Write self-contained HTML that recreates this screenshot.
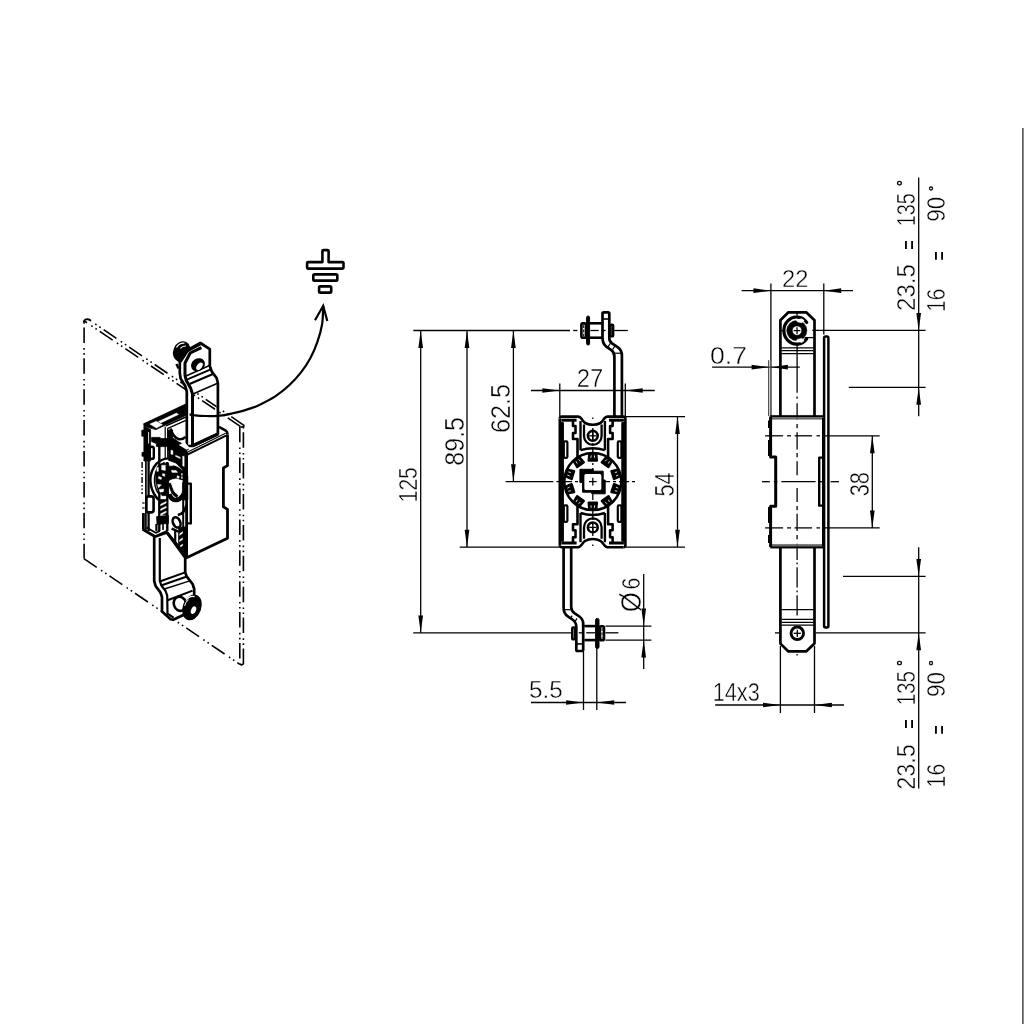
<!DOCTYPE html>
<html><head><meta charset="utf-8"><title>Drawing</title>
<style>
html,body{margin:0;padding:0;background:#fff;}
body{width:1024px;height:1024px;overflow:hidden;}
svg{display:block;}
svg text{font-family:"Liberation Sans",sans-serif;fill:#000;stroke:#fff;stroke-width:0.42px;vector-effect:non-scaling-stroke;paint-order:fill stroke;}
svg text.b{stroke:#000;stroke-width:0.5px;}
svg text.n{stroke:none;}
</style></head><body>
<svg width="1024" height="1024" viewBox="0 0 1024 1024" fill="none" stroke="#000" stroke-linecap="butt" stroke-linejoin="round">
<rect x="0" y="0" width="1024" height="1024" fill="#fff" stroke="none"/>
<g opacity="0.999">
<line x1="1022.90" y1="128.00" x2="1022.90" y2="1024.00" stroke-width="1.1" />
<g id="mid-dims">
<line x1="413.30" y1="330.50" x2="570.00" y2="330.50" stroke-width="1.3" />
<line x1="573.20" y1="330.50" x2="577.40" y2="330.50" stroke-width="1.3" />
<line x1="590.50" y1="330.50" x2="598.70" y2="330.50" stroke-width="1.3" />
<line x1="603.00" y1="330.50" x2="605.60" y2="330.50" stroke-width="1.3" />
<line x1="614.40" y1="330.50" x2="627.80" y2="330.50" stroke-width="1.3" />
<line x1="413.20" y1="632.80" x2="571.20" y2="632.80" stroke-width="1.3" />
<line x1="578.70" y1="632.80" x2="582.10" y2="632.80" stroke-width="1.3" />
<line x1="586.20" y1="632.80" x2="595.10" y2="632.80" stroke-width="1.3" />
<line x1="605.40" y1="632.80" x2="618.40" y2="632.80" stroke-width="1.3" />
<line x1="420.70" y1="330.50" x2="420.70" y2="632.80" stroke-width="1.3" />
<polygon points="420.70,330.50 423.05,347.90 418.35,347.90" fill="#000" stroke="none"/>
<polygon points="420.70,632.80 418.35,615.40 423.05,615.40" fill="#000" stroke="none"/>
<line x1="467.00" y1="330.50" x2="467.00" y2="547.20" stroke-width="1.3" />
<polygon points="467.00,330.50 469.35,347.90 464.65,347.90" fill="#000" stroke="none"/>
<polygon points="467.00,547.20 464.65,529.80 469.35,529.80" fill="#000" stroke="none"/>
<line x1="459.70" y1="547.20" x2="559.00" y2="547.20" stroke-width="1.3" />
<line x1="513.40" y1="330.50" x2="513.40" y2="481.60" stroke-width="1.3" />
<polygon points="513.40,330.50 515.75,347.90 511.05,347.90" fill="#000" stroke="none"/>
<polygon points="513.40,481.60 511.05,464.20 515.75,464.20" fill="#000" stroke="none"/>
<line x1="505.60" y1="481.60" x2="553.30" y2="481.60" stroke-width="1.3" />
<line x1="556.40" y1="481.60" x2="559.50" y2="481.60" stroke-width="1.3" />
<line x1="531.00" y1="390.50" x2="654.80" y2="390.50" stroke-width="1.3" />
<line x1="559.80" y1="383.50" x2="559.80" y2="416.00" stroke-width="1.3" />
<line x1="625.30" y1="383.50" x2="625.30" y2="416.00" stroke-width="1.3" />
<polygon points="559.80,390.50 542.40,392.85 542.40,388.15" fill="#000" stroke="none"/>
<polygon points="625.30,390.50 642.70,388.15 642.70,392.85" fill="#000" stroke="none"/>
<line x1="626.00" y1="416.60" x2="685.00" y2="416.60" stroke-width="1.3" />
<line x1="626.00" y1="547.20" x2="685.00" y2="547.20" stroke-width="1.3" />
<line x1="677.50" y1="416.60" x2="677.50" y2="547.20" stroke-width="1.3" />
<polygon points="677.50,416.60 679.85,434.00 675.15,434.00" fill="#000" stroke="none"/>
<polygon points="677.50,547.20 675.15,529.80 679.85,529.80" fill="#000" stroke="none"/>
<line x1="605.50" y1="626.10" x2="651.40" y2="626.10" stroke-width="1.3" />
<line x1="605.50" y1="640.20" x2="651.40" y2="640.20" stroke-width="1.3" />
<line x1="643.70" y1="574.00" x2="643.70" y2="669.00" stroke-width="1.3" />
<polygon points="643.70,626.00 641.35,608.60 646.05,608.60" fill="#000" stroke="none"/>
<polygon points="643.70,640.00 646.05,657.40 641.35,657.40" fill="#000" stroke="none"/>
<line x1="531.00" y1="702.50" x2="626.00" y2="702.50" stroke-width="1.3" />
<line x1="583.50" y1="652.00" x2="583.50" y2="710.00" stroke-width="1.3" />
<line x1="596.80" y1="648.00" x2="596.80" y2="710.00" stroke-width="1.3" />
<polygon points="583.50,702.50 566.10,704.85 566.10,700.15" fill="#000" stroke="none"/>
<polygon points="596.80,702.50 614.20,700.15 614.20,704.85" fill="#000" stroke="none"/>
</g>
<g id="mid-text">
<text  transform="translate(576.81,387.00) scale(0.1188,0.1271)" font-size="200">27</text>
<text  transform="translate(674.03,496.47) rotate(-90) scale(0.1082,0.1357)" font-size="200">54</text>
<text  transform="translate(509.83,433.06) rotate(-90) scale(0.1264,0.1338)" font-size="200">62.5</text>
<text  transform="translate(463.93,465.73) rotate(-90) scale(0.1250,0.1373)" font-size="200">89.5</text>
<text  transform="translate(417.33,502.28) rotate(-90) scale(0.1052,0.1331)" font-size="200">125</text>
<text  transform="translate(641.16,612.20) rotate(-90) scale(0.1291,0.1477)" font-size="200">Ø</text>
<text  transform="translate(640.24,589.58) rotate(-90) scale(0.1075,0.1296)" font-size="200">6</text>
<text  transform="translate(529.03,698.25) scale(0.1214,0.1229)" font-size="200">5.5</text>
</g>
<g id="mid-part">
<line x1="592.80" y1="417.50" x2="592.80" y2="419.00" stroke-width="1.3" />
<line x1="592.80" y1="544.50" x2="592.80" y2="546.00" stroke-width="1.3" />
<line x1="562.00" y1="481.60" x2="636.00" y2="481.60" stroke-width="1.3" stroke-dasharray="10 3 3 3"/>
<line x1="592.80" y1="428.00" x2="592.80" y2="536.00" stroke-width="1.3" stroke-dasharray="12 3 2 3"/>
<path d="M559.8,418.6 Q559.8,416.6 561.8,416.6 L578.0,416.6 C581.8,416.6 581.8,421.11 585.1999999999999,422.99600000000004 C587.8,424.47200000000004 590.3,424.8 592.8,424.8 C595.3,424.8 597.8,424.47200000000004 600.4,422.99600000000004 C603.8,421.11 603.8,416.6 607.5999999999999,416.6 L623.4,416.6 Q625.4,416.6 625.4,418.6 L625.4,545.2 Q625.4,547.2 623.4,547.2 " stroke-width="2.6" fill="none" />
<path d="M559.8,545.2 Q559.8,547.2 561.8,547.2 L578.0,547.2 C581.8,547.2 581.8,542.69 585.1999999999999,540.8040000000001 C587.8,539.3280000000001 590.3,539.0 592.8,539.0 C595.3,539.0 597.8,539.3280000000001 600.4,540.8040000000001 C603.8,542.69 603.8,547.2 607.5999999999999,547.2 L623.4,547.2" stroke-width="2.6" fill="none" />
<line x1="559.80" y1="418.60" x2="559.80" y2="545.20" stroke-width="2.6" />
<rect x="559.80" y="422.60" width="3.60" height="118.60" rx="0" stroke-width="1" fill="#000" />
<rect x="621.80" y="422.60" width="3.60" height="118.60" rx="0" stroke-width="1" fill="#000" />
<line x1="561.30" y1="420.20" x2="576.60" y2="420.20" stroke-width="3.0" />
<line x1="609.00" y1="420.20" x2="623.90" y2="420.20" stroke-width="3.0" />
<path d="M573.00,421.00 L573.00,426.00 L575.50,426.00 L575.50,433.00 L573.00,433.00 L573.00,439.00 L577.50,439.00 L577.50,457.00" stroke-width="2.6" fill="none" />
<path d="M612.60,421.00 L612.60,426.00 L610.10,426.00 L610.10,433.00 L612.60,433.00 L612.60,439.00 L608.10,439.00 L608.10,457.00" stroke-width="2.6" fill="none" />
<rect x="563.80" y="441.40" width="3.60" height="16.40" rx="1" stroke-width="2.2" fill="none" />
<rect x="617.80" y="441.40" width="3.60" height="16.40" rx="1" stroke-width="2.2" fill="none" />
<path d="M580.50,421.00 L580.50,450.20" stroke-width="2.4" fill="none" />
<path d="M604.90,421.00 L604.90,450.20" stroke-width="2.4" fill="none" />
<path d="M580.5,450.2 Q592.8,446.2 604.9,450.2" stroke-width="2.4" fill="none" />
<path d="M584,424.5 L584,436.0 A8.8,8.8 0 0 0 601.6,436.0 L601.6,424.5" stroke-width="2.3" fill="none" />
<circle cx="592.80" cy="435.80" r="4.90" stroke-width="2.6" fill="none" />
<line x1="589.20" y1="435.80" x2="596.40" y2="435.80" stroke-width="1.3" />
<line x1="592.80" y1="432.20" x2="592.80" y2="439.40" stroke-width="1.3" />
<line x1="561.30" y1="543.00" x2="576.60" y2="543.00" stroke-width="3.0" />
<line x1="609.00" y1="543.00" x2="623.90" y2="543.00" stroke-width="3.0" />
<path d="M573.00,542.20 L573.00,537.20 L575.50,537.20 L575.50,530.20 L573.00,530.20 L573.00,524.20 L577.50,524.20 L577.50,506.20" stroke-width="2.6" fill="none" />
<path d="M612.60,542.20 L612.60,537.20 L610.10,537.20 L610.10,530.20 L612.60,530.20 L612.60,524.20 L608.10,524.20 L608.10,506.20" stroke-width="2.6" fill="none" />
<rect x="563.80" y="505.40" width="3.60" height="16.40" rx="1" stroke-width="2.2" fill="none" />
<rect x="617.80" y="505.40" width="3.60" height="16.40" rx="1" stroke-width="2.2" fill="none" />
<path d="M580.50,542.20 L580.50,513.00" stroke-width="2.4" fill="none" />
<path d="M604.90,542.20 L604.90,513.00" stroke-width="2.4" fill="none" />
<path d="M580.5,513.0 Q592.8,517.0 604.9,513.0" stroke-width="2.4" fill="none" />
<path d="M584,538.7 L584,527.2 A8.8,8.8 0 0 1 601.6,527.2 L601.6,538.7" stroke-width="2.3" fill="none" />
<circle cx="592.80" cy="527.40" r="4.90" stroke-width="2.6" fill="none" />
<line x1="589.20" y1="527.40" x2="596.40" y2="527.40" stroke-width="1.3" />
<line x1="592.80" y1="523.80" x2="592.80" y2="531.00" stroke-width="1.3" />
<circle cx="592.80" cy="481.60" r="28.50" stroke-width="2.5" fill="none" />
<path d="M596.20,453.80 L596.90,460.60 L588.70,460.60 L589.40,453.80 Z" stroke-width="2.4" fill="#000" />
<path d="M594.40,455.40 L594.70,457.80" stroke-width="0.9" fill="none" stroke="#fff"/>
<path d="M591.20,455.40 L590.90,457.80" stroke-width="0.9" fill="none" stroke="#fff"/>
<path d="M579.21,457.11 L583.77,462.20 L577.14,467.02 L573.71,461.11 Z" stroke-width="2.4" fill="#000" />
<path d="M578.69,459.46 L580.35,461.23" stroke-width="0.9" fill="none" stroke="#fff"/>
<path d="M576.11,461.34 L577.27,463.46" stroke-width="0.9" fill="none" stroke="#fff"/>
<path d="M567.41,469.78 L574.09,471.21 L571.56,479.01 L565.31,476.24 Z" stroke-width="2.4" fill="#000" />
<path d="M568.38,471.98 L570.75,472.44" stroke-width="0.9" fill="none" stroke="#fff"/>
<path d="M567.39,475.03 L569.58,476.05" stroke-width="0.9" fill="none" stroke="#fff"/>
<path d="M565.31,486.96 L571.56,484.19 L574.09,491.99 L567.41,493.42 Z" stroke-width="2.4" fill="#000" />
<path d="M567.39,488.17 L569.58,487.15" stroke-width="0.9" fill="none" stroke="#fff"/>
<path d="M568.38,491.22 L570.75,490.76" stroke-width="0.9" fill="none" stroke="#fff"/>
<path d="M573.71,502.09 L577.14,496.18 L583.77,501.00 L579.21,506.09 Z" stroke-width="2.4" fill="#000" />
<path d="M576.11,501.86 L577.27,499.74" stroke-width="0.9" fill="none" stroke="#fff"/>
<path d="M578.69,503.74 L580.35,501.97" stroke-width="0.9" fill="none" stroke="#fff"/>
<path d="M589.40,509.40 L588.70,502.60 L596.90,502.60 L596.20,509.40 Z" stroke-width="2.4" fill="#000" />
<path d="M591.20,507.80 L590.90,505.40" stroke-width="0.9" fill="none" stroke="#fff"/>
<path d="M594.40,507.80 L594.70,505.40" stroke-width="0.9" fill="none" stroke="#fff"/>
<path d="M606.39,506.09 L601.83,501.00 L608.46,496.18 L611.89,502.09 Z" stroke-width="2.4" fill="#000" />
<path d="M606.91,503.74 L605.25,501.97" stroke-width="0.9" fill="none" stroke="#fff"/>
<path d="M609.49,501.86 L608.33,499.74" stroke-width="0.9" fill="none" stroke="#fff"/>
<path d="M618.19,493.42 L611.51,491.99 L614.04,484.19 L620.29,486.96 Z" stroke-width="2.4" fill="#000" />
<path d="M617.22,491.22 L614.85,490.76" stroke-width="0.9" fill="none" stroke="#fff"/>
<path d="M618.21,488.17 L616.02,487.15" stroke-width="0.9" fill="none" stroke="#fff"/>
<path d="M620.29,476.24 L614.04,479.01 L611.51,471.21 L618.19,469.78 Z" stroke-width="2.4" fill="#000" />
<path d="M618.21,475.03 L616.02,476.05" stroke-width="0.9" fill="none" stroke="#fff"/>
<path d="M617.22,471.98 L614.85,472.44" stroke-width="0.9" fill="none" stroke="#fff"/>
<path d="M611.89,461.11 L608.46,467.02 L601.83,462.20 L606.39,457.11 Z" stroke-width="2.4" fill="#000" />
<path d="M609.49,461.34 L608.33,463.46" stroke-width="0.9" fill="none" stroke="#fff"/>
<path d="M606.91,459.46 L605.25,461.23" stroke-width="0.9" fill="none" stroke="#fff"/>
<path d="M579.90,469.30 L593.30,469.30 L593.30,471.20 L603.20,471.20 L603.20,480.00 L605.20,480.00 L605.20,493.80 L591.70,493.80 L591.70,492.20 L582.60,492.20 L582.60,482.40 L579.90,482.40 Z" stroke-width="1.0" fill="#000" />
<rect x="584.40" y="474.10" width="16.90" height="16.00" rx="1.6" stroke-width="0.1" fill="#fff" stroke="#fff"/>
<line x1="589.00" y1="481.60" x2="596.60" y2="481.60" stroke-width="1.3" />
<line x1="592.80" y1="477.80" x2="592.80" y2="485.40" stroke-width="1.3" />
<path d="M602.5,338.4 L602.5,313.6 Q602.5,312.3 603.8,312.3 L608,312.3 Q609.3,312.3 609.3,313.6 L609.3,338 Q609.3,341.4 612,343.4 L617.6,347.2 Q621.9,350.2 621.9,355.5 L621.9,416" stroke-width="2.7" fill="none" />
<path d="M602.5,338 Q602.5,343.8 606.6,346.8 L611.4,350.2 Q614.4,352.4 614.4,356.4 L614.4,416" stroke-width="2.7" fill="none" />
<line x1="602.50" y1="319.00" x2="609.30" y2="319.00" stroke-width="1.6" />
<line x1="607.60" y1="347.60" x2="610.40" y2="343.20" stroke-width="1.2" />
<line x1="612.80" y1="349.40" x2="615.20" y2="345.20" stroke-width="1.2" />
<line x1="614.60" y1="353.20" x2="621.60" y2="353.20" stroke-width="1.2" />
<rect x="581.40" y="323.40" width="4.60" height="14.40" rx="1.5" stroke-width="2.6" fill="none" />
<line x1="583.70" y1="325.00" x2="583.70" y2="336.50" stroke-width="1.0" stroke-dasharray="3 1.4"/>
<rect x="586.60" y="316.00" width="3.00" height="29.00" rx="1.5" stroke-width="1.0" fill="#000" />
<line x1="590.00" y1="323.30" x2="602.00" y2="323.30" stroke-width="2.6" />
<line x1="590.00" y1="337.70" x2="602.00" y2="337.70" stroke-width="2.6" />
<rect x="610.60" y="324.60" width="2.60" height="11.80" rx="1" stroke-width="2.4" fill="none" />
<path d="M563.6,548 L563.6,608 Q563.6,613.4 567.8,616.3 L572.4,619.5 Q576.3,622.2 576.3,626.8 L576.3,649.8 Q576.3,651 577.5,651 L582,651 Q583.2,651 583.2,649.8 L583.2,625" stroke-width="2.7" fill="none" />
<path d="M571.2,548 L571.2,606.8 Q571.2,610.8 574.4,613.1 L579.4,616.5 Q583.2,619.2 583.2,624 L583.2,626" stroke-width="2.7" fill="none" />
<line x1="576.30" y1="643.90" x2="583.20" y2="643.90" stroke-width="1.6" />
<line x1="564.40" y1="609.70" x2="570.40" y2="609.70" stroke-width="1.2" />
<line x1="570.40" y1="618.60" x2="572.20" y2="615.60" stroke-width="1.2" />
<line x1="575.20" y1="621.40" x2="577.00" y2="618.40" stroke-width="1.2" />
<rect x="572.20" y="627.40" width="2.80" height="12.00" rx="1" stroke-width="2.4" fill="none" />
<line x1="584.40" y1="626.10" x2="595.40" y2="626.10" stroke-width="2.6" />
<line x1="584.40" y1="640.10" x2="595.40" y2="640.10" stroke-width="2.6" />
<rect x="595.60" y="618.40" width="3.40" height="30.00" rx="1.5" stroke-width="1.0" fill="#000" />
<rect x="599.80" y="626.30" width="4.20" height="14.00" rx="1.5" stroke-width="2.6" fill="none" />
<line x1="602.00" y1="628.00" x2="602.00" y2="639.00" stroke-width="1.0" stroke-dasharray="3 1.4"/>
</g>
<g id="right-dims">
<line x1="741.60" y1="290.70" x2="853.00" y2="290.70" stroke-width="1.3" />
<line x1="770.90" y1="283.40" x2="770.90" y2="416.00" stroke-width="1.3" />
<line x1="823.80" y1="283.40" x2="823.80" y2="334.50" stroke-width="1.3" />
<polygon points="770.90,290.70 753.50,293.05 753.50,288.35" fill="#000" stroke="none"/>
<polygon points="823.80,290.70 841.20,288.35 841.20,293.05" fill="#000" stroke="none"/>
<line x1="712.10" y1="367.20" x2="799.80" y2="367.20" stroke-width="1.3" />
<line x1="768.60" y1="360.20" x2="768.60" y2="416.00" stroke-width="1.0" stroke="#444"/>
<line x1="770.20" y1="360.20" x2="770.20" y2="416.00" stroke-width="1.0" stroke="#777"/>
<polygon points="769.00,367.20 751.60,369.55 751.60,364.85" fill="#000" stroke="none"/>
<polygon points="771.40,367.20 787.90,364.85 787.90,369.55" fill="#000" stroke="none"/>
<line x1="822.80" y1="435.80" x2="879.70" y2="435.80" stroke-width="1.3" />
<line x1="822.80" y1="527.90" x2="879.70" y2="527.90" stroke-width="1.3" />
<line x1="872.30" y1="435.80" x2="872.30" y2="527.90" stroke-width="1.3" />
<polygon points="872.30,435.80 874.65,453.20 869.95,453.20" fill="#000" stroke="none"/>
<polygon points="872.30,527.90 869.95,510.50 874.65,510.50" fill="#000" stroke="none"/>
<line x1="715.20" y1="705.00" x2="844.00" y2="705.00" stroke-width="1.3" />
<line x1="780.40" y1="646.00" x2="780.40" y2="713.00" stroke-width="1.3" />
<line x1="814.50" y1="646.00" x2="814.50" y2="713.00" stroke-width="1.3" />
<polygon points="780.40,705.00 763.00,707.35 763.00,702.65" fill="#000" stroke="none"/>
<polygon points="814.50,705.00 831.90,702.65 831.90,707.35" fill="#000" stroke="none"/>
<line x1="812.30" y1="330.40" x2="925.60" y2="330.40" stroke-width="1.3" />
<line x1="848.80" y1="387.40" x2="925.60" y2="387.40" stroke-width="1.3" />
<line x1="843.00" y1="576.30" x2="925.60" y2="576.30" stroke-width="1.3" />
<line x1="815.60" y1="632.90" x2="925.60" y2="632.90" stroke-width="1.3" />
<line x1="775.00" y1="632.90" x2="779.00" y2="632.90" stroke-width="1.3" />
<line x1="918.70" y1="177.60" x2="918.70" y2="416.30" stroke-width="1.3" />
<line x1="918.70" y1="547.30" x2="918.70" y2="788.40" stroke-width="1.3" />
<polygon points="918.70,330.40 916.35,313.00 921.05,313.00" fill="#000" stroke="none"/>
<polygon points="918.70,387.40 921.05,404.80 916.35,404.80" fill="#000" stroke="none"/>
<polygon points="918.70,576.30 916.35,558.90 921.05,558.90" fill="#000" stroke="none"/>
<polygon points="918.70,632.90 921.05,650.30 916.35,650.30" fill="#000" stroke="none"/>
</g>
<g id="right-text">
<text  transform="translate(782.11,286.70) scale(0.1188,0.1229)" font-size="200">22</text>
<text  transform="translate(709.94,363.55) scale(0.1331,0.1239)" font-size="200">0.7</text>
<text  transform="translate(869.03,496.27) rotate(-90) scale(0.1092,0.1352)" font-size="200">38</text>
<text  transform="translate(712.67,701.15) scale(0.1088,0.1246)" font-size="200">14x3</text>
<text  transform="translate(915.23,310.90) rotate(-90) scale(0.1199,0.1331)" font-size="200">23.5</text>
<text class="n" transform="translate(916.76,249.71) rotate(-90) scale(0.0814,0.1262)" font-size="200">=</text>
<text  transform="translate(915.23,226.30) rotate(-90) scale(0.0997,0.1331)" font-size="200">135</text>
<text class="b" transform="translate(909.00,186.34) rotate(-90) scale(0.0786,0.0786)" font-size="200">°</text>
<text  transform="translate(945.04,311.86) rotate(-90) scale(0.1040,0.1296)" font-size="200">16</text>
<text class="n" transform="translate(946.91,260.40) rotate(-90) scale(0.0804,0.1246)" font-size="200">=</text>
<text  transform="translate(945.04,221.81) rotate(-90) scale(0.1121,0.1296)" font-size="200">90</text>
<text class="b" transform="translate(938.55,191.26) rotate(-90) scale(0.0714,0.0768)" font-size="200">°</text>
<text  transform="translate(915.23,789.87) rotate(-90) scale(0.1173,0.1331)" font-size="200">23.5</text>
<text class="n" transform="translate(916.76,728.82) rotate(-90) scale(0.0825,0.1262)" font-size="200">=</text>
<text  transform="translate(915.23,705.34) rotate(-90) scale(0.1029,0.1331)" font-size="200">135</text>
<text class="b" transform="translate(909.00,666.10) rotate(-90) scale(0.0750,0.0786)" font-size="200">°</text>
<text  transform="translate(945.04,787.39) rotate(-90) scale(0.1060,0.1296)" font-size="200">16</text>
<text class="n" transform="translate(946.91,734.60) rotate(-90) scale(0.0804,0.1246)" font-size="200">=</text>
<text  transform="translate(945.04,697.01) rotate(-90) scale(0.1121,0.1296)" font-size="200">90</text>
<text class="b" transform="translate(938.55,666.10) rotate(-90) scale(0.0750,0.0768)" font-size="200">°</text>
</g>
<g id="right-part">
<line x1="797.10" y1="345.00" x2="797.10" y2="392.70" stroke-width="1.3" />
<line x1="797.10" y1="396.40" x2="797.10" y2="398.80" stroke-width="1.3" />
<line x1="797.10" y1="403.20" x2="797.10" y2="419.50" stroke-width="1.3" />
<line x1="797.10" y1="423.90" x2="797.10" y2="428.30" stroke-width="1.3" />
<line x1="797.10" y1="432.20" x2="797.10" y2="449.40" stroke-width="1.3" />
<line x1="797.10" y1="452.90" x2="797.10" y2="457.30" stroke-width="1.3" />
<line x1="797.10" y1="461.20" x2="797.10" y2="475.30" stroke-width="1.3" />
<line x1="797.10" y1="487.90" x2="797.10" y2="502.00" stroke-width="1.3" />
<line x1="797.10" y1="505.90" x2="797.10" y2="510.30" stroke-width="1.3" />
<line x1="797.10" y1="513.80" x2="797.10" y2="531.00" stroke-width="1.3" />
<line x1="797.10" y1="534.90" x2="797.10" y2="539.30" stroke-width="1.3" />
<line x1="797.10" y1="543.70" x2="797.10" y2="560.00" stroke-width="1.3" />
<line x1="797.10" y1="562.50" x2="797.10" y2="564.20" stroke-width="1.3" />
<line x1="797.10" y1="567.20" x2="797.10" y2="587.50" stroke-width="1.3" />
<line x1="797.10" y1="590.60" x2="797.10" y2="592.30" stroke-width="1.3" />
<line x1="797.10" y1="595.30" x2="797.10" y2="615.60" stroke-width="1.3" />
<line x1="797.10" y1="654.00" x2="797.10" y2="655.60" stroke-width="1.3" />
<line x1="765.10" y1="435.80" x2="783.10" y2="435.80" stroke-width="1.3" />
<line x1="787.10" y1="435.80" x2="791.00" y2="435.80" stroke-width="1.3" />
<line x1="794.60" y1="435.80" x2="812.10" y2="435.80" stroke-width="1.3" />
<line x1="816.50" y1="435.80" x2="820.00" y2="435.80" stroke-width="1.3" />
<line x1="765.10" y1="527.90" x2="783.10" y2="527.90" stroke-width="1.3" />
<line x1="787.10" y1="527.90" x2="791.00" y2="527.90" stroke-width="1.3" />
<line x1="794.60" y1="527.90" x2="812.10" y2="527.90" stroke-width="1.3" />
<line x1="816.50" y1="527.90" x2="820.00" y2="527.90" stroke-width="1.3" />
<line x1="762.00" y1="481.70" x2="769.90" y2="481.70" stroke-width="1.3" />
<line x1="773.90" y1="481.70" x2="777.40" y2="481.70" stroke-width="1.3" />
<line x1="781.40" y1="481.70" x2="815.60" y2="481.70" stroke-width="1.3" />
<line x1="818.30" y1="481.70" x2="822.70" y2="481.70" stroke-width="1.3" />
<line x1="830.60" y1="481.70" x2="838.90" y2="481.70" stroke-width="1.3" />
<path d="M780.40,416.00 L780.40,320.20 L788.40,312.30 L806.20,312.30 L814.50,320.20 L814.50,416.00" stroke-width="2.7" fill="none" />
<path d="M780.40,548.00 L780.40,643.60 L788.20,651.30 L806.40,651.30 L814.50,643.60 L814.50,548.00" stroke-width="2.7" fill="none" />
<line x1="781.40" y1="347.80" x2="813.50" y2="347.80" stroke-width="1.2" />
<line x1="781.40" y1="350.70" x2="813.50" y2="350.70" stroke-width="1.2" />
<line x1="781.40" y1="353.70" x2="813.50" y2="353.70" stroke-width="1.2" />
<line x1="804.50" y1="337.60" x2="813.40" y2="337.60" stroke-width="1.3" />
<line x1="781.40" y1="609.70" x2="813.50" y2="609.70" stroke-width="1.2" />
<line x1="781.40" y1="619.30" x2="813.50" y2="619.30" stroke-width="1.2" />
<line x1="781.40" y1="622.30" x2="813.50" y2="622.30" stroke-width="1.2" />
<line x1="781.40" y1="625.10" x2="813.50" y2="625.10" stroke-width="1.2" />
<path d="M806.73,322.44 A12.7,13.6 0 1 0 806.73,338.76" stroke-width="3.2" fill="none" stroke-linecap="round"/>
<circle cx="796.80" cy="330.60" r="10.10" stroke-width="0.5" fill="#000" />
<path d="M796.30,319.90 L801.90,318.80 L804.20,320.60 L801.60,322.80 L797.30,321.80 Z" stroke-width="0.6" fill="#fff" stroke="#fff"/>
<path d="M796.30,341.30 L801.90,342.40 L804.20,340.60 L801.60,338.40 L797.30,339.40 Z" stroke-width="0.6" fill="#fff" stroke="#fff"/>
<circle cx="797.00" cy="330.60" r="4.70" stroke-width="0.5" fill="#fff" />
<line x1="793.60" y1="330.60" x2="800.40" y2="330.60" stroke-width="1.3" />
<line x1="797.00" y1="327.20" x2="797.00" y2="334.00" stroke-width="1.3" />
<line x1="781.20" y1="330.60" x2="783.20" y2="330.60" stroke-width="1.3" />
<line x1="797.00" y1="312.80" x2="797.00" y2="315.60" stroke-width="1.3" />
<circle cx="797.30" cy="633.30" r="6.25" stroke-width="2.9" fill="none" />
<line x1="793.70" y1="633.30" x2="800.90" y2="633.30" stroke-width="1.3" />
<line x1="797.30" y1="629.70" x2="797.30" y2="636.90" stroke-width="1.3" />
<rect x="770.30" y="415.20" width="52.90" height="2.20" rx="0" stroke-width="0.1" fill="#000" />
<rect x="770.30" y="417.40" width="52.90" height="2.10" rx="0" stroke-width="0.1" fill="#666" stroke="#666"/>
<rect x="770.30" y="546.20" width="52.90" height="2.20" rx="0" stroke-width="0.1" fill="#000" />
<rect x="770.30" y="544.20" width="52.90" height="2.00" rx="0" stroke-width="0.1" fill="#666" stroke="#666"/>
<path d="M770.60,416.40 L770.60,457.00 L775.70,457.00 L775.70,506.20 L770.60,506.20 L770.60,547.00" stroke-width="3.0" fill="none" />
<line x1="769.00" y1="420.50" x2="769.00" y2="428.00" stroke-width="2.0" />
<line x1="769.00" y1="440.00" x2="769.00" y2="456.00" stroke-width="2.0" />
<line x1="769.00" y1="507.00" x2="769.00" y2="523.00" stroke-width="2.0" />
<line x1="769.00" y1="535.00" x2="769.00" y2="543.00" stroke-width="2.0" />
<line x1="822.80" y1="418.00" x2="822.80" y2="546.50" stroke-width="1.6" />
<path d="M822.40,457.60 L819.20,457.60 L819.20,505.60 L822.40,505.60" stroke-width="2.4" fill="none" />
<path d="M824.1,626 L824.1,338 Q824.1,336.5 825.6,336.5 L827,336.5 Q828.4,336.5 828.4,338 L828.4,626 Q828.4,627.4 827,627.4 L825.6,627.4 Q824.1,627.4 824.1,626 Z" stroke-width="2.5" fill="none" />
</g>
<g id="iso">
<line x1="84.10" y1="320.80" x2="84.10" y2="558.60" stroke-width="1.6" stroke-dasharray="15.5 5.2 1.6 3.4 1.6 3.6" stroke-dashoffset="24.3"/>
<path d="M83.6,322.6 Q83.8,319.4 87.6,319.2 Q89.8,319.2 90.8,320.8" stroke-width="1.7" fill="none" />
<line x1="84.10" y1="320.80" x2="240.80" y2="426.70" stroke-width="1.6" stroke-dasharray="15.5 5.2 1.6 3.4 1.6 3.6" stroke-dashoffset="12.0"/>
<line x1="88.50" y1="319.40" x2="243.90" y2="425.30" stroke-width="1.6" stroke-dasharray="15.5 5.2 1.6 3.4 1.6 3.6" stroke-dashoffset="12.6"/>
<line x1="239.80" y1="426.70" x2="239.80" y2="663.40" stroke-width="1.6" stroke-dasharray="15.5 5.2 1.6 3.4 1.6 3.6" stroke-dashoffset="0"/>
<line x1="243.40" y1="425.80" x2="243.40" y2="664.00" stroke-width="1.6" stroke-dasharray="15.5 5.2 1.6 3.4 1.6 3.6" stroke-dashoffset="24.5"/>
<path d="M240.60,427.20 L243.80,426.60 L243.80,424.80" stroke-width="1.6" fill="none" />
<path d="M239.4,663.6 L241.4,665 L243.6,664" stroke-width="1.6" fill="none" />
<line x1="83.90" y1="558.60" x2="239.80" y2="664.30" stroke-width="1.6" stroke-dasharray="15.5 5.2 1.6 3.4 1.6 3.6" stroke-dashoffset="0"/>
<path d="M322.4,262.1 L322.4,251.1 Q322.4,250.1 323.4,250.1 L327.6,250.1 Q328.6,250.1 328.6,251.1 L328.6,262.1 L342.5,262.1 Q343.5,262.1 343.5,263.1 L343.5,267.6 Q343.5,268.6 342.5,268.6 L308.1,268.6 Q307.1,268.6 307.1,267.6 L307.1,263.1 Q307.1,262.1 308.1,262.1 Z" stroke-width="2.6" fill="none" />
<rect x="313.30" y="274.40" width="24.00" height="6.20" rx="1.2" stroke-width="2.6" fill="none" />
<rect x="319.10" y="286.40" width="12.10" height="6.20" rx="1.2" stroke-width="2.6" fill="none" />
<ellipse cx="181.8" cy="351.6" rx="8.6" ry="10.6" transform="rotate(22 181.8 351.6)" fill="#000" stroke="none"/>
<path d="M176.5,347.5 Q179,342.8 184.5,343.2" stroke-width="1.3" fill="none" stroke="#fff"/>
<path d="M180.4,348.4 Q182.5,345.8 186,346" stroke-width="1.1" fill="none" stroke="#fff"/>
<path d="M176.40,364.00 L178.60,368.60" stroke-width="2.4" fill="none" />
<path d="M186.80,446.00 L186.80,391.50 L185.20,386.00 L180.60,378.50 L179.80,373.00 L179.80,361.80 L187.20,350.20 L200.40,343.00 L209.80,349.20 L209.80,366.00 L211.80,371.60 L216.60,378.00 L217.90,383.00 L217.90,434.00 L192.60,446.00 Z" stroke-width="2.7" fill="#fff" />
<path d="M192.50,446.00 L192.50,394.00 L190.80,388.60 L186.30,380.60 L185.00,375.50 L185.00,363.00 L190.20,353.00 L201.40,347.60" stroke-width="3.0" fill="none" />
<path d="M180.60,362.00 L187.60,351.20 L200.40,344.40" stroke-width="2.2" fill="none" />
<line x1="185.50" y1="376.20" x2="209.40" y2="365.60" stroke-width="1.6" />
<line x1="186.90" y1="379.60" x2="210.20" y2="369.60" stroke-width="1.9" />
<line x1="189.60" y1="384.00" x2="213.00" y2="374.00" stroke-width="2.0" />
<line x1="193.00" y1="394.00" x2="217.00" y2="383.60" stroke-width="1.6" />
<ellipse cx="198" cy="364.8" rx="7.3" ry="6.2" transform="rotate(-32 198 364.8)" fill="#000" stroke="none"/>
<ellipse cx="199.5" cy="366.3" rx="2.5" ry="4.3" transform="rotate(36 199.5 366.3)" fill="#fff" stroke="none"/>
<clipPath id="cpf"><polygon points="194,385 216.6,378 216.6,420 194,420"/></clipPath>
<g clip-path="url(#cpf)">
<line x1="84.10" y1="320.80" x2="240.80" y2="426.70" stroke-width="1.6" stroke-dasharray="15.5 5.2 1.6 3.4 1.6 3.6" stroke-dashoffset="12.0"/>
<line x1="88.50" y1="319.40" x2="243.90" y2="425.30" stroke-width="1.6" stroke-dasharray="15.5 5.2 1.6 3.4 1.6 3.6" stroke-dashoffset="12.6"/>
</g>
<path d="M186.60,454.80 L226.20,435.40 L227.50,434.40 L227.50,465.60 L223.40,468.00 L223.40,506.80 L227.50,509.40 L227.50,538.20 L186.60,557.80 Z" stroke-width="0.1" fill="#fff" stroke="#fff"/>
<path d="M227.50,434.40 L227.50,465.60 L223.40,468.00 L223.40,506.80 L227.50,509.40 L227.50,538.20 L186.60,557.80 L186.60,452.00" stroke-width="2.8" fill="none" />
<line x1="187.40" y1="454.60" x2="226.60" y2="435.30" stroke-width="1.9" />
<line x1="187.80" y1="452.00" x2="225.60" y2="433.20" stroke-width="1.2" />
<path d="M177.40,444.60 L186.60,452.40" stroke-width="3.0" fill="none" />
<path d="M179.60,442.60 L188.60,449.60" stroke-width="1.6" fill="none" />
<path d="M219,426.8 L225.8,430.6 Q227.5,431.6 227.5,434.4" stroke-width="2.6" fill="none" />
<path d="M192.60,445.80 L218.00,434.00" stroke-width="3.2" fill="none" />
<path d="M143.60,423.80 L185.80,404.00 L185.80,415.40 L156.00,429.60 L144.20,426.60 Z" stroke-width="0.8" fill="#000" />
<path d="M158.40,421.50 L176.40,413.00 L178.60,414.40 L160.80,422.90 Z" stroke-width="0.4" fill="#fff" stroke="#fff"/>
<path d="M149.80,424.10 L156.20,421.20 L162.60,424.70 L156.40,427.90 Z" stroke-width="0.4" fill="#fff" stroke="#fff"/>
<line x1="166.10" y1="425.90" x2="185.80" y2="417.00" stroke-width="1.5" />
<line x1="167.30" y1="428.60" x2="185.80" y2="420.40" stroke-width="1.5" />
<path d="M143.90,426.50 L150.60,429.60 L150.60,461.00 L143.90,461.00 Z" stroke-width="0.8" fill="#000" />
<path d="M141.80,430.20 L144.00,430.20 L144.00,436.20 L141.80,436.20 Z" stroke-width="0.8" fill="#000" />
<path d="M142.00,452.40 L144.00,452.40 L144.00,456.20 L142.00,456.20 Z" stroke-width="0.8" fill="#000" />
<line x1="148.60" y1="432.00" x2="148.60" y2="443.50" stroke-width="0.9" stroke="#fff"/>
<rect x="149.80" y="446.80" width="4.00" height="12.10" rx="2" stroke-width="2.4" fill="#fff" />
<line x1="142.10" y1="462.00" x2="142.10" y2="494.00" stroke-width="1.4" stroke-dasharray="6 2 1.5 2 1.5 2"/>
<line x1="145.90" y1="461.00" x2="145.90" y2="530.00" stroke-width="1.7" />
<line x1="148.60" y1="461.00" x2="148.60" y2="531.00" stroke-width="2.3" />
<line x1="143.40" y1="513.00" x2="143.40" y2="529.40" stroke-width="2.8" />
<rect x="146.40" y="496.40" width="7.20" height="16.00" rx="2.4" stroke-width="2.6" fill="#fff" />
<line x1="142.20" y1="503.00" x2="144.60" y2="503.00" stroke-width="1.2" />
<line x1="142.20" y1="508.00" x2="144.60" y2="508.00" stroke-width="1.2" />
<path d="M151.60,437.40 L160.20,437.40 L160.20,438.60 L174.20,438.60 L174.20,446.60 L156.40,446.60 L156.40,443.60 L151.60,441.60 Z" stroke-width="0.8" fill="#000" />
<line x1="159.30" y1="446.00" x2="159.30" y2="531.00" stroke-width="2.4" />
<line x1="165.20" y1="426.60" x2="165.20" y2="458.00" stroke-width="1.2" />
<line x1="167.70" y1="428.60" x2="167.70" y2="458.00" stroke-width="1.2" />
<line x1="167.30" y1="462.00" x2="167.30" y2="531.00" stroke-width="2.4" />
<path d="M167.60,430.20 L172.60,430.20 L172.60,450.00 L167.60,450.00 Z" stroke-width="0.8" fill="#000" />
<path d="M170.6,428.6 C171.6,433.4 175,438.4 179,439.2 C181.6,439.6 183.8,438.6 185.6,436.8" stroke-width="2.6" fill="none" />
<path d="M170.60,439.20 L175.60,439.60 L187.00,448.40 L187.00,478.00 L182.60,478.00 L182.60,470.00 L176.00,463.00 L168.60,460.40 L168.60,447.80 Z" stroke-width="0.8" fill="#000" />
<path d="M179.20,444.90 L184.70,442.60 L189.40,447.80 L186.60,449.50 Z" stroke-width="0.4" fill="#fff" stroke="#fff"/>
<path d="M170.90,450.20 L172.90,450.60 L172.90,454.60 L170.90,454.20 Z" stroke-width="0.4" fill="#fff" stroke="#fff"/>
<path d="M175.60,455.20 L180.20,457.20 L180.20,458.60 L175.60,456.60 Z" stroke-width="0.4" fill="#fff" stroke="#fff"/>
<path d="M182.70,456.00 L184.20,456.60 L184.20,466.40 L182.70,465.80 Z" stroke-width="0.4" fill="#fff" stroke="#fff"/>
<path d="M169.20,461.60 L172.80,462.80 L172.80,466.60 L169.20,465.60 Z" stroke-width="0.4" fill="#fff" stroke="#fff"/>
<path d="M168.6,458.4 C163,458.6 157.4,461.6 154,467 C150.6,472.6 149.6,480 151.2,486.6 C152.6,492 155,496.4 158.6,499.8" stroke-width="2.4" fill="none" />
<path d="M164.6,462.4 C159.6,464.4 155.4,470 154.6,477 C154,483.6 155.6,489.6 158.6,493.6" stroke-width="1.5" fill="none" />
<path d="M157.60,466.00 L163.00,463.20 L168.60,463.40 L168.60,495.60 L162.00,495.60 L157.80,490.00 L155.80,482.00 L155.80,472.00 Z" stroke-width="0.8" fill="#000" />
<path d="M156.90,467.60 L158.40,467.40 L158.40,471.20 L156.90,471.40 Z" stroke-width="0.4" fill="#fff" stroke="#fff"/>
<path d="M161.60,465.20 L165.40,465.20 L165.40,470.60 L161.60,469.80 Z" stroke-width="0.4" fill="#fff" stroke="#fff"/>
<path d="M157.40,484.40 L161.40,484.80 L158.60,487.80 Z" stroke-width="0.4" fill="#fff" stroke="#fff"/>
<path d="M159.20,489.40 L163.80,489.00 L163.40,491.80 L160.00,492.20 Z" stroke-width="0.4" fill="#fff" stroke="#fff"/>
<path d="M158.60,476.40 L161.60,477.40 L161.20,479.40 L158.40,478.60 Z" stroke-width="0.4" fill="#fff" stroke="#fff"/>
<path d="M162.60,473.40 L165.00,474.20 L164.60,476.40 L162.40,475.60 Z" stroke-width="0.4" fill="#fff" stroke="#fff"/>
<path d="M172.4,467.6 C179,468.6 185,475 185.6,485 C186,493 181.4,500.2 175.6,500 C172.4,499.8 170.2,497.4 169.4,494" stroke-width="4.6" fill="none" />
<path d="M170,483 C170.6,489 173.6,494.6 177.6,496.6" stroke-width="3.0" fill="none" />
<path d="M168.60,466.00 L176.00,466.80 L182.00,472.00 L182.60,480.00 L176.00,478.00 L170.00,479.60 L168.60,481.00 Z" stroke-width="0.8" fill="#000" />
<path d="M170.20,481.40 L172.40,479.60 L175.60,481.40 L178.60,489.80 L178.20,494.60 L175.20,490.80 L172.00,485.40 Z" stroke-width="0.4" fill="#fff" stroke="#fff"/>
<path d="M171.40,470.20 L176.20,470.60 L177.60,472.40 L172.00,472.40 Z" stroke-width="0.4" fill="#fff" stroke="#fff"/>
<path d="M177.40,475.60 L179.40,476.60 L178.60,478.60 L176.80,477.60 Z" stroke-width="0.4" fill="#fff" stroke="#fff"/>
<path d="M182.50,476.00 L187.80,476.00 L187.80,500.00 L182.50,500.00 Z" stroke-width="0.8" fill="#000" />
<line x1="183.20" y1="500.00" x2="183.20" y2="527.00" stroke-width="2.0" />
<line x1="181.90" y1="473.20" x2="181.90" y2="475.40" stroke-width="1.3" stroke="#fff"/>
<line x1="181.90" y1="476.60" x2="181.90" y2="478.80" stroke-width="1.3" stroke="#fff"/>
<line x1="181.90" y1="480.00" x2="181.90" y2="482.20" stroke-width="1.3" stroke="#fff"/>
<path d="M187.60,483.60 L190.80,483.60 L190.80,523.40 L187.60,523.40" stroke-width="2.4" fill="none" />
<path d="M177.8,515 C181.4,514.2 185,511.6 186.2,505.4" stroke-width="2.6" fill="none" />
<path d="M159.30,499.60 L167.30,499.60 L167.30,514.60 L159.30,514.60 Z" stroke-width="0.8" fill="#000" />
<path d="M160.60,504.20 L166.20,501.40 L166.20,503.00 L160.60,505.80 Z" stroke-width="0.4" fill="#fff" stroke="#fff"/>
<path d="M160.60,509.00 L166.20,506.20 L166.20,507.80 L160.60,510.60 Z" stroke-width="0.4" fill="#fff" stroke="#fff"/>
<path d="M160.60,513.80 L166.20,511.00 L166.20,512.60 L160.60,515.40 Z" stroke-width="0.4" fill="#fff" stroke="#fff"/>
<path d="M156.60,516.60 L168.40,515.40 L168.40,523.40 L157.00,524.40 Z" stroke-width="0.8" fill="#000" />
<line x1="156.40" y1="524.00" x2="156.40" y2="531.00" stroke-width="2.2" />
<line x1="163.00" y1="524.00" x2="163.00" y2="530.00" stroke-width="1.6" />
<ellipse cx="176.6" cy="522.4" rx="3.6" ry="5.4" transform="rotate(-24 176.6 522.4)" fill="#fff" stroke="#000" stroke-width="2.6"/>
<path d="M178.60,527.00 L186.00,527.00 L186.00,556.00 L178.60,547.00 Z" stroke-width="0.8" fill="#000" />
<path d="M179.60,533.80 L182.60,531.60 L182.60,533.20 L179.60,535.40 Z" stroke-width="0.4" fill="#fff" stroke="#fff"/>
<path d="M179.60,540.00 L182.60,537.80 L182.60,539.40 L179.60,541.60 Z" stroke-width="0.4" fill="#fff" stroke="#fff"/>
<path d="M179.60,546.20 L182.60,544.00 L182.60,545.60 L179.60,547.80 Z" stroke-width="0.4" fill="#fff" stroke="#fff"/>
<line x1="175.20" y1="531.00" x2="175.20" y2="546.00" stroke-width="2.2" />
<path d="M171.60,528.60 L178.60,531.60" stroke-width="2.4" fill="none" />
<path d="M142.60,529.20 L155.40,536.80 L166.80,531.60" stroke-width="2.8" fill="none" />
<path d="M146.60,527.40 L155.60,532.80 L160.00,531.00" stroke-width="1.8" fill="none" />
<path d="M166.80,532.40 L186.00,556.00" stroke-width="2.8" fill="none" />
<path d="M162.60,537.00 L183.40,554.60" stroke-width="1.8" fill="none" />
<path d="M163.60,541.60 L170.60,547.60" stroke-width="1.4" fill="none" />
<path d="M154.20,537.00 L154.20,581.00 L155.60,586.00 L160.40,592.40 L162.00,597.00 L162.00,611.40 L170.60,619.20 L173.20,619.80 L183.40,615.00 L194.20,606.00 L194.20,589.00 L192.60,584.00 L186.60,576.40 L185.20,572.40 L185.20,557.80 L166.80,532.40 Z" stroke-width="2.7" fill="#fff" />
<path d="M166.80,532.40 L186.00,556.00" stroke-width="2.6" fill="none" />
<path d="M159.80,538.00 L159.80,581.00 L161.40,585.60 L165.60,591.00 L167.20,595.60 L167.50,613.60 L173.60,617.60" stroke-width="2.2" fill="none" />
<line x1="160.40" y1="581.20" x2="185.20" y2="572.40" stroke-width="2.0" />
<line x1="161.80" y1="585.20" x2="187.60" y2="576.20" stroke-width="2.0" />
<line x1="164.40" y1="589.00" x2="190.60" y2="580.60" stroke-width="1.4" />
<line x1="167.60" y1="600.20" x2="192.60" y2="590.60" stroke-width="2.0" />
<ellipse cx="180" cy="603.8" rx="6.2" ry="7.2" transform="rotate(-20 180 603.8)" fill="none" stroke="#000" stroke-width="2.6"/>
<ellipse cx="192" cy="607.4" rx="9.3" ry="13.3" transform="rotate(20 192 607.4)" fill="#000" stroke="none"/>
<ellipse cx="193.5" cy="610.2" rx="2.4" ry="4.0" transform="rotate(24 193.5 610.2)" fill="#fff" stroke="none"/>
<path d="M186,600.5 Q189,595.6 194.6,596.6" stroke-width="1.2" fill="none" stroke="#fff"/>
<path d="M184.6,606 Q185.6,601.6 188.6,599.6" stroke-width="1.0" fill="none" stroke="#fff"/>
<path d="M189.60,414.40 C190.50,414.57 192.27,415.13 195.00,415.40 C197.73,415.67 202.23,415.93 206.00,416.00 C209.77,416.07 213.73,416.12 217.60,415.80 C221.47,415.48 225.47,414.75 229.20,414.05 C232.93,413.35 236.58,412.51 240.00,411.60 C243.42,410.69 246.57,409.67 249.70,408.60 C252.83,407.53 254.55,407.23 258.80,405.20 C263.05,403.17 270.13,399.72 275.20,396.40 C280.27,393.08 284.90,389.30 289.20,385.30 C293.50,381.30 297.48,376.90 301.00,372.40 C304.52,367.90 307.57,363.38 310.30,358.30 C313.03,353.22 315.43,347.57 317.40,341.90 C319.37,336.23 321.13,330.25 322.10,324.30 C323.07,318.35 323.02,309.22 323.20,306.20" stroke-width="2.2" fill="none" />
<path d="M315.00,320.20 L323.20,305.80 L327.30,321.00" stroke-width="2.2" fill="none" stroke-linejoin="miter"/>
</g>
</g>
</svg>
</body></html>
